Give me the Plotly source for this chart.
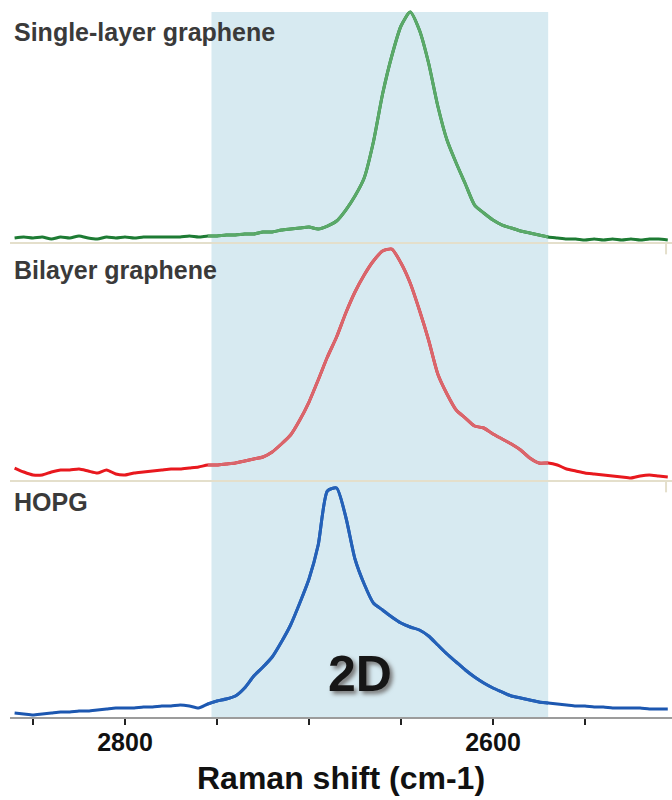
import plotly.graph_objects as go

# Raman shift sample positions (cm-1)
wavenumber = [2860, 2855, 2850, 2845, 2840, 2835, 2830, 2825, 2820, 2815,
              2810, 2805, 2800, 2795, 2790, 2785, 2780, 2775, 2770, 2765,
              2760, 2755, 2750, 2745, 2740, 2735, 2730, 2725, 2720, 2715,
              2710, 2705, 2700, 2695, 2690, 2685, 2680, 2675, 2670, 2665,
              2660, 2655, 2650, 2645, 2640, 2635, 2630, 2625, 2620, 2615,
              2610, 2605, 2600, 2595, 2590, 2585, 2580, 2575, 2570, 2565,
              2560, 2555, 2550, 2545, 2540, 2535, 2530, 2525, 2520, 2515,
              2510, 2505]

single_layer = [0, 1, 0, 1, -1, 1, 0, 2, 0, -1,
                1, 0, 1, 0, 1, 1, 1, 1, 1, 2,
                1, 2, 2, 3, 3, 4, 4, 6, 6, 8,
                9, 10, 11, 9, 12, 17, 28, 42, 60, 96,
                144, 182, 212, 226, 208, 175, 132, 98, 75, 54,
                33, 25, 18, 13, 10, 7, 5, 3, 1, 0,
                -1, -1, -2, -1, -2, -1, -2, -1, -2, -1,
                -1, -2]

bilayer = [2, -2, -5, -5, -2, 0, 0, 1, -1, -3,
           0, -4, -5, -3, -2, -1, 0, 1, 1, 2,
           3, 5, 5, 6, 7, 9, 11, 13, 18, 26,
           35, 50, 68, 90, 113, 133, 157, 178, 195, 209,
           219, 221, 207, 187, 160, 130, 96, 76, 60, 52,
           44, 42, 36, 31, 26, 20, 12, 7, 7, 5,
           1, -1, -3, -4, -5, -6, -7, -8, -6, -5,
           -6, -7]

hopg = [0, -1, -2, -1, 0, 1, 1, 2, 2, 3,
        4, 5, 5, 5, 6, 6, 7, 7, 8, 7,
        5, 9, 12, 14, 17, 25, 37, 46, 56, 71,
        88, 110, 134, 168, 222, 225, 196, 154, 129, 110,
        103, 96, 90, 86, 83, 77, 68, 59, 51, 43,
        36, 30, 25, 21, 17, 15, 13, 11, 10, 9,
        8, 7, 7, 6, 6, 5, 5, 5, 5, 4,
        4, 4]

labels = ["Single-layer graphene", "Bilayer graphene", "HOPG"]
tick_values = [2800, 2600]
minor_tick_values = [2850, 2750, 2700, 2650, 2550]
band_low, band_high = 2570, 2753

FONT = "Liberation Sans, Arial, Helvetica, sans-serif"

series = [
    (single_layer, "y", "#1d7b33", "#5aa968"),
    (bilayer, "y2", "#e8181e", "#d9666c"),
    (hopg, "y3", "#1c57b0", "#2461b8"),
]

fig = go.Figure()
for vals, yax, col_out, col_in in series:
    fig.add_trace(go.Scatter(x=wavenumber, y=vals, mode="lines", yaxis=yax,
                             line=dict(color=col_out, width=3, shape="spline", smoothing=0.6),
                             hoverinfo="skip"))
    xs = [w for w in wavenumber if band_low <= w <= band_high + 2]
    ys = [v for w, v in zip(wavenumber, vals) if band_low <= w <= band_high + 2]
    fig.add_trace(go.Scatter(x=xs, y=ys, mode="lines", yaxis=yax,
                             line=dict(color=col_in, width=3, shape="spline", smoothing=0.6),
                             hoverinfo="skip"))

# shaded 2D band
fig.add_shape(type="rect", xref="x", yref="paper", x0=band_high, x1=band_low,
              y0=0, y1=0.997, fillcolor="#d7eaf1", line=dict(width=0), layer="below")

# panel baselines (beige)
for yb in [0.6704, 0.3338]:
    fig.add_shape(type="line", xref="paper", yref="paper", x0=0, x1=1, y0=yb, y1=yb,
                  line=dict(color="#e4dfcb", width=2), layer="below")
    fig.add_shape(type="line", xref="paper", yref="paper", x0=0.991, x1=0.991,
                  y0=yb, y1=yb - 0.016, line=dict(color="#e4dfcb", width=2), layer="below")

label_y = [0.969, 0.632, 0.304]
for txt, ly in zip(labels, label_y):
    fig.add_annotation(text=txt, xref="paper", yref="paper", x=0.003, y=ly,
                       xanchor="left", yanchor="middle", showarrow=False,
                       font=dict(family=FONT, size=25, color="#3a3a3a", weight="bold"))

fig.add_annotation(text="2D", xref="paper", yref="paper", x=0.5287, y=0.061,
                   xanchor="center", yanchor="middle", showarrow=False,
                   font=dict(family=FONT, size=50, color="#161616", weight="bold",
                             shadow="3px 3px 4px #777"))

fig.add_annotation(text="Raman shift (cm-1)", xref="paper", yref="paper", x=0.5, y=-0.0863,
                   xanchor="center", yanchor="middle", showarrow=False,
                   font=dict(family=FONT, size=32, color="#111111", weight="bold"))

fig.update_layout(
    width=672, height=800,
    margin=dict(l=10, r=0, t=10, b=83),
    paper_bgcolor="white", plot_bgcolor="white",
    showlegend=False, hovermode=False,
    xaxis=dict(range=[2862.5, 2502.7], anchor="y3", showgrid=False, zeroline=False,
               showline=True, linecolor="#9c9c9c", linewidth=2,
               tickmode="array", tickvals=tick_values,
               ticks="outside", ticklen=6, tickwidth=2, tickcolor="#222222",
               tickfont=dict(family=FONT, size=25, color="#111111", weight="bold"),
               ticklabelstandoff=-4,
               minor=dict(tickvals=minor_tick_values, ticks="outside", ticklen=6,
                          tickwidth=2, tickcolor="#222222", showgrid=False)),
    yaxis=dict(domain=[0.6704, 1.0], range=[-5, 228], visible=False, anchor="x"),
    yaxis2=dict(domain=[0.3338, 0.6704], range=[-11, 227], visible=False, anchor="x"),
    yaxis3=dict(domain=[0.0, 0.3338], range=[-4, 232], visible=False, anchor="x"),
)

fig.write_html("out.html", config={"displayModeBar": False},
               post_script="document.body.style.margin='0';")
